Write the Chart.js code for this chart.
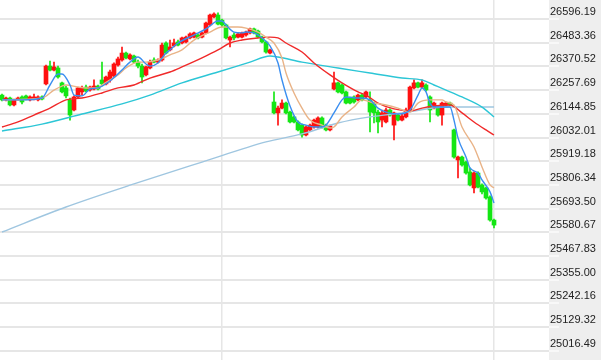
<!DOCTYPE html>
<html><head><meta charset="utf-8">
<script src="https://cdn.jsdelivr.net/npm/chart.js@4.4.1/dist/chart.umd.min.js"></script>
<style>html,body{margin:0;padding:0;background:#fff}#wrap{width:601px;height:360px;position:relative}</style>
</head><body><div id="wrap"><canvas id="c"></canvas></div>
<script>
// ---- data ----
const tickLabels = ['26596.19','26483.36','26370.52','26257.69','26144.85','26032.01','25919.18','25806.34','25693.50','25580.67','25467.83','25355.00','25242.16','25129.32','25016.49'];
const dateGridIdx = [55, 123];

const opens = [26234,26211,26220,26187,26211,26225,26230,26211,26215,26211,
26225,26287,26372,26353,26363,26292,26268,26211,26163,26225,
26249,26272,26258,26263,26277,26306,26287,26306,26325,26377,
26401,26434,26406,26420,26391,26372,26330,26363,26401,26391,
26401,26482,26449,26468,26487,26482,26487,26506,26510,26520,
26510,26530,26568,26606,26615,26591,26568,26496,26520,26510,
26510,26520,26530,26549,26539,26510,26487,26434,26201,26149,
26172,26196,26153,26130,26106,26091,26044,26068,26082,26082,
26125,26091,26068,26263,26292,26282,26249,26220,26225,26211,
26234,26225,26211,26196,26153,26115,26106,26163,26091,26139,
26115,26130,26163,26268,26292,26272,26282,26225,26172,26177,
26139,26187,26196,26068,25925,25939,25915,25868,25792,25863,
25806,25792,25749,25639];
const highs = [26239,26225,26225,26215,26225,26230,26234,26230,26239,26230,
26230,26377,26396,26391,26372,26296,26277,26220,26230,26272,
26277,26282,26277,26306,26282,26391,26325,26353,26387,26415,
26463,26439,26430,26425,26401,26382,26372,26401,26411,26406,
26482,26487,26496,26501,26496,26510,26515,26530,26534,26525,
26534,26582,26620,26625,26625,26596,26572,26515,26530,26530,
26534,26539,26553,26553,26544,26515,26491,26453,26249,26182,
26211,26201,26158,26134,26111,26096,26087,26096,26120,26130,
26130,26096,26091,26344,26296,26287,26253,26225,26230,26239,
26239,26253,26249,26201,26163,26163,26172,26168,26153,26144,
26144,26172,26277,26306,26296,26306,26287,26230,26201,26182,
26201,26201,26201,26072,25944,25944,25920,25887,25868,25868,
25811,25796,25754,25644];
const lows = [26206,26206,26182,26182,26211,26192,26211,26206,26211,26206,
26211,26282,26349,26349,26315,26244,26220,26115,26158,26220,
26234,26249,26253,26258,26258,26277,26282,26296,26320,26372,
26396,26406,26401,26387,26363,26292,26325,26358,26387,26387,
26396,26430,26444,26463,26468,26477,26482,26501,26506,26501,
26506,26525,26563,26601,26568,26558,26501,26463,26496,26506,
26506,26515,26525,26525,26506,26482,26434,26430,26144,26091,
26168,26144,26101,26101,26063,26034,26039,26063,26077,26077,
26077,26063,26063,26258,26244,26239,26192,26192,26196,26206,
26206,26220,26058,26101,26054,26082,26101,26134,26020,26111,
26111,26125,26158,26263,26268,26268,26253,26106,26168,26134,
26091,26182,26182,25934,25839,25896,25858,25801,25768,25792,
25763,25739,25634,25601];
const closes = [26211,26220,26187,26211,26220,26201,26215,26225,26225,26225,
26215,26372,26353,26368,26320,26249,26230,26139,26225,26268,
26268,26253,26272,26277,26263,26287,26320,26344,26382,26406,
26434,26411,26425,26391,26372,26320,26368,26391,26391,26401,
26472,26434,26463,26482,26472,26506,26510,26525,26530,26506,
26530,26577,26615,26620,26572,26568,26506,26510,26506,26525,
26530,26534,26549,26530,26510,26487,26439,26449,26149,26172,
26196,26149,26106,26106,26068,26044,26082,26091,26115,26125,
26082,26068,26087,26292,26249,26244,26196,26196,26201,26234,
26211,26249,26153,26149,26106,26149,26163,26139,26149,26115,
26134,26163,26272,26292,26272,26292,26258,26163,26196,26139,
26196,26196,26187,25939,25939,25901,25863,25806,25863,25796,
25773,25744,25639,25615];

// moving-average lines, sampled at candle indices
const ma5Idx = [0,5,10,12,14,15,17,18,20,22,24,27,30,32,34,36,37,39,41,42,44,48,51,54,55,56,58,60,61,63,65,67,69,70,72,74,76,78,80,81,83,85,86,89,90,92,94,96,99,102,104,105,106,107,108,112,113,114,116,117,119,120,122,123];
const ma5Val = [26211,26211,26220,26282,26334,26334,26282,26234,26230,26263,26268,26301,26353,26391,26415,26382,26372,26387,26434,26449,26482,26520,26549,26587,26587,26568,26534,26530,26534,26530,26506,26468,26387,26306,26182,26106,26091,26082,26082,26091,26149,26211,26225,26220,26220,26211,26172,26153,26144,26163,26234,26268,26249,26196,26177,26177,26115,26030,25939,25887,25863,25830,25773,25720];
const ma10Idx = [0,10,13,15,16,19,21,24,25,29,31,34,36,39,42,45,48,52,55,59,61,64,66,68,70,71,73,75,77,80,82,83,85,88,90,93,96,99,102,104,107,110,111,113,115,118,120,122,123];
const ma10Val = [26211,26220,26258,26277,26282,26272,26268,26268,26282,26330,26363,26391,26391,26401,26425,26449,26496,26534,26558,26558,26553,26534,26510,26482,26411,26339,26244,26172,26115,26091,26077,26082,26130,26177,26211,26196,26187,26172,26153,26196,26211,26211,26201,26187,26082,25987,25892,25806,25792];
const ma20Idx = [0,4,8,12,16,20,25,29,33,37,42,45,50,54,57,60,64,67,69,71,75,78,82,85,89,91,94,98,102,105,108,112,115,118,121,123];
const ma20Val = [26082,26106,26139,26172,26211,26220,26244,26268,26282,26315,26344,26368,26411,26449,26482,26496,26506,26510,26506,26482,26439,26387,26330,26292,26249,26234,26196,26168,26158,26172,26182,26187,26149,26106,26068,26044];
const ma60Idx = [0,10,20,30,37,45,54,62,67,69,75,84,92,100,105,108,111,115,120,123];
const ma60Val = [26063,26096,26144,26192,26234,26292,26344,26391,26420,26415,26391,26363,26339,26315,26306,26282,26258,26225,26177,26130];
const ma120Idx = [0,16,33,50,66,75,84,92,100,111,123];
const ma120Val = [25582,25701,25811,25915,26011,26049,26101,26130,26149,26177,26177];

// ---- chart ----
const tickValues = tickLabels.map(Number);
const idx = closes.map((_, i) => i);
const RED = '#ff1010', GREEN = '#14e614';
const candleColors = idx.map(i => closes[i] >= opens[i] ? RED : GREEN);
const pts = (ix, vals) => ix.map((x, k) => ({x: x, y: vals[k]}));
const line = (label, ix, vals, color) => ({
  type: 'line', label, data: pts(ix, vals), borderColor: color, borderWidth: 1.4,
  pointRadius: 0, fill: false, cubicInterpolationMode: 'monotone', order: 0
});

const axisBg = {
  id: 'axisBg',
  beforeDraw(chart) {
    const {ctx, chartArea, width, height} = chart;
    ctx.save();
    ctx.fillStyle = '#eeeeee';
    ctx.fillRect(chartArea.right, 0, width - chartArea.right, height);
    const ys = chart.scales.y;
    ctx.strokeStyle = '#f8f8f8';
    ctx.lineWidth = 2;
    tickValues.forEach(v => {
      const p = Math.round(ys.getPixelForValue(v));
      ctx.beginPath(); ctx.moveTo(chartArea.right, p); ctx.lineTo(chartArea.right + 10, p); ctx.stroke();
    });
    ctx.restore();
  }
};

new Chart(document.getElementById('c'), {
  type: 'bar',
  data: {
    datasets: [
      line('MA5', ma5Idx, ma5Val, '#3a8ef0'),
      line('MA10', ma10Idx, ma10Val, '#e9b387'),
      line('MA20', ma20Idx, ma20Val, '#f02a2a'),
      line('MA60', ma60Idx, ma60Val, '#2cc6d6'),
      line('MA120', ma120Idx, ma120Val, '#9fc6e0'),
      {type: 'bar', label: 'body', data: idx.map(i => ({x: i, y: [opens[i], closes[i]]})),
       backgroundColor: candleColors, barThickness: 4, grouped: false, borderWidth: 0, order: 1},
      {type: 'bar', label: 'wick', data: idx.map(i => ({x: i, y: [lows[i], highs[i]]})),
       backgroundColor: candleColors, barThickness: 1, grouped: false, borderWidth: 0, order: 2}
    ]
  },
  options: {
    responsive: true, maintainAspectRatio: false, animation: false, devicePixelRatio: 1,
    events: [],
    layout: {padding: 0},
    plugins: {legend: {display: false}, tooltip: {enabled: false}},
    scales: {
      x: {
        type: 'linear', min: -0.5, max: 136.75, offset: false,
        afterBuildTicks: s => { s.ticks = dateGridIdx.map(v => ({value: v})); },
        afterFit: s => { s.height = 0; s.paddingLeft = 0; s.paddingRight = 0; },
        ticks: {display: false},
        grid: {color: '#e6e6e6', lineWidth: 1.5, drawTicks: false, offset: false},
        border: {display: false}
      },
      y: {
        position: 'right', min: 24972.7, max: 26686.65,
        afterBuildTicks: s => { s.ticks = tickValues.map(v => ({value: v})); },
        afterFit: s => { s.width = 52; s.paddingTop = 0; s.paddingBottom = 0; },
        ticks: {labelOffset: -7, padding: 1, color: '#222',
                font: {family: 'Liberation Sans, Arial, sans-serif', size: 11},
                callback: v => Number(v).toFixed(2)},
        grid: {color: '#e6e6e6', lineWidth: 2, drawTicks: false},
        border: {display: false}
      }
    }
  },
  plugins: [axisBg]
});
</script>
</body></html>
